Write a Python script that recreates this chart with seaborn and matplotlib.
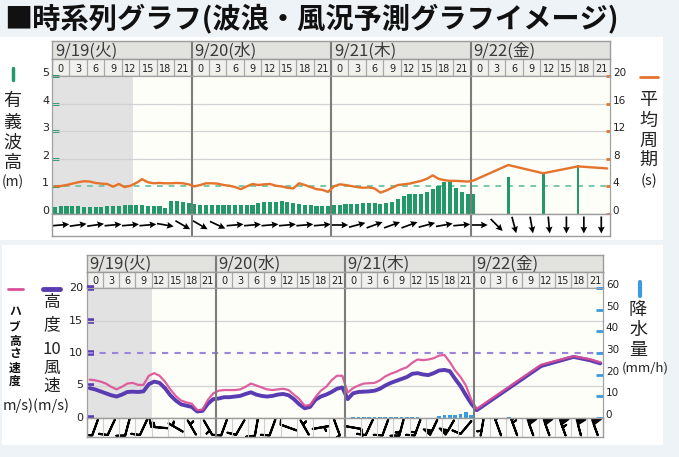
import numpy as np
import pandas as pd
import matplotlib
matplotlib.use("Agg")
import matplotlib.pyplot as plt
import seaborn as sns
from matplotlib.patches import Rectangle
from matplotlib.lines import Line2D
import matplotlib.transforms as mtransforms
from matplotlib import font_manager

sns.set_style("white")
CJK = ['Noto Sans CJK JP', 'DejaVu Sans']
plt.rcParams['font.family'] = CJK
_names = {f.name for f in font_manager.fontManager.ttflist}
NARROW = 'Liberation Sans Narrow' if 'Liberation Sans Narrow' in _names else 'DejaVu Sans'

# ---------------- data ----------------
dates = ['9/19(火)', '9/20(水)', '9/21(木)', '9/22(金)']
hour_labels = ['0', '3', '6', '9', '12', '15', '18', '21']

# significant wave height (m), hourly for hours 0..72
wave_height_hourly = [0.27, 0.3, 0.3, 0.28, 0.3, 0.27, 0.25, 0.25, 0.27, 0.3, 0.3, 0.3,
                      0.32, 0.32, 0.32, 0.32, 0.3, 0.3, 0.28, 0.2, 0.48, 0.46, 0.43, 0.4,
                      0.35, 0.33, 0.33, 0.33, 0.33, 0.33, 0.33, 0.33, 0.33, 0.33, 0.33, 0.4,
                      0.43, 0.45, 0.45, 0.48, 0.42, 0.4, 0.38, 0.33, 0.33, 0.3, 0.3, 0.3,
                      0.33, 0.33, 0.35, 0.36, 0.38, 0.4, 0.41, 0.41, 0.38, 0.4, 0.45, 0.55,
                      0.65, 0.72, 0.72, 0.72, 0.78, 0.89, 1.01, 1.17, 1.15, 0.93, 0.81, 0.72,
                      0.74]
wave_6h_hours = [78, 84, 90]
wave_height_6h = [1.35, 1.47, 1.78]

# mean wave period (s), hourly for hours 0..72
period_hourly = [4.0, 4.05, 4.2, 4.4, 4.6, 4.75, 4.7, 4.5, 4.4, 4.35, 3.96, 4.35,
                 3.9, 4.1, 4.5, 5.05, 4.6, 4.45, 4.5, 4.45, 4.45, 4.5, 4.45, 4.3,
                 4.0, 4.2, 4.45, 4.45, 4.4, 4.2, 4.1, 3.9, 3.6, 4.0, 4.35, 4.2,
                 4.3, 4.35, 4.1, 4.0, 3.8, 3.7, 4.45, 4.2, 3.9, 3.6, 3.5, 3.2,
                 4.0, 4.3, 4.2, 4.05, 3.9, 3.8, 3.85, 3.7, 3.1, 3.4, 3.8, 4.2,
                 4.3, 4.4, 4.6, 4.8, 5.1, 5.6, 5.1, 4.9, 4.8, 4.8, 4.75, 4.7,
                 4.85]
period_6h_hours = [78, 84, 90, 95]
period_6h = [7.1, 5.9, 6.9, 6.6]

# wave direction arrows every 3 h (degrees, 0 = pointing right, positive = up)
wave_dir = [5, 8, 8, 5, 5, 5, -10, -30,
            -30, -25, 5, 5, 5, 5, 5, 5,
            0, 15, 20, 20, 20, 15, 10, 5,
            0, -45, -75, -80, -85, -90, -90, -90]

# wind speed (m/s), hourly for hours 0..71
hub_speed_hourly = [5.9, 5.8, 5.6, 5.3, 4.8, 4.4, 4.8, 5.3, 5.4, 5.1, 5.1, 6.5,
                    6.9, 6.5, 5.6, 4.4, 3.4, 2.7, 2.4, 2.2, 1.2, 1.3, 2.8, 3.8,
                    4.2, 4.3, 4.3, 4.3, 4.4, 4.8, 5.3, 5.0, 4.7, 4.4, 4.3, 4.4,
                    4.5, 4.3, 3.6, 2.9, 1.9, 2.0, 3.2, 4.2, 4.8, 5.8, 6.5, 6.5,
                    3.9, 4.6, 5.0, 5.3, 5.35, 5.4, 5.8, 6.4, 6.8, 7.1, 7.5, 7.8,
                    8.5, 9.0, 8.9, 9.0, 9.2, 9.6, 9.7, 8.6, 7.3, 6.3, 5.0, 2.8]
wind10_hourly = [4.6, 4.4, 4.1, 3.8, 3.5, 3.3, 3.6, 4.0, 4.05, 4.0, 4.1, 5.2,
                 5.6, 5.4, 4.6, 3.5, 2.7, 2.1, 1.9, 1.7, 1.0, 1.1, 2.2, 2.9,
                 3.0, 3.2, 3.2, 3.3, 3.4, 3.7, 3.95, 3.6, 3.4, 3.3, 3.4, 3.6,
                 3.7, 3.5, 2.9, 2.1, 1.5, 1.7, 2.8, 3.3, 3.6, 4.0, 4.5, 4.7,
                 2.9, 3.8, 4.0, 4.05, 4.1, 4.2, 4.5, 5.0, 5.4, 5.7, 6.0, 6.3,
                 6.8, 6.9, 6.7, 6.6, 6.9, 7.3, 7.4, 7.2, 6.0, 4.9, 3.5, 2.2]
speed_3h_hours = [72, 75, 78, 81, 84, 87, 90, 93, 95]
hub_speed_3h = [1.4, 3.1, 4.8, 6.5, 8.2, 8.85, 9.5, 9.05, 8.55]
wind10_3h = [1.2, 2.9, 4.6, 6.3, 8.0, 8.7, 9.4, 8.9, 8.4]

# precipitation (mm/h)
precip_hourly = [0, 0, 0, 0, 0, 0, 0, 0, 0, 0, 0, 0,
                 0, 0, 0, 0, 0, 0, 0, 0, 0, 0, 0, 0,
                 0, 0, 0, 0, 0, 0, 0, 0, 0, 0, 0, 0,
                 0, 0, 0, 0, 0, 0, 0, 0, 0, 0, 0, 0,
                 0, 0.5, 0.5, 0.5, 0.5, 0.5, 0.5, 0.5, 0.5, 0.5, 0.5, 0.5,
                 0.5, 0.5, 0, 0, 0, 0.8, 1.5, 1.6, 1.6, 2.0, 3.0, 1.2]
precip_3h = [0, 0, 0.5, 0, 0, 0, 0, 0, 0]

# wind barbs every 3 h (speed m/s, direction wind blows from, degrees)
barb_speed = [4.5, 3.8, 3.6, 4.0, 5.4, 2.8, 1.8, 1.5,
              3.1, 3.3, 3.8, 3.4, 3.6, 1.8, 2.5, 4.4,
              3.5, 4.1, 4.6, 5.8, 6.8, 7.0, 7.3, 4.0,
              1.5, 3.5, 5.5, 7.5, 8.5, 9.2, 9.0, 8.5]
barb_dir = [200, 205, 195, 205, 275, 300, 330, 150,
            200, 210, 190, 200, 290, 330, 80, 160,
            100, 205, 200, 195, 200, 205, 210, 220,
            190, 340, 340, 340, 340, 340, 345, 340]

# ---------------- colours ----------------
GREEN = '#23996b'
ORANGE = '#e5732b'
PINK = '#dc4f95'
PURPLE = '#5a3cb2'
BLUE = '#3a9be0'
SHADE = '#e2e2e2'
PLOTBG = '#fefef9'
PAGEBG = '#eef3f8'

W, H = 679, 457
fig = plt.figure(figsize=(W / 100, H / 100), dpi=100)
fig.patch.set_facecolor(PAGEBG)


def rect(x0, y0, x1, y1):
    return [x0 / W, 1 - y1 / H, (x1 - x0) / W, (y1 - y0) / H]


def fx(x):
    return x / W


def fy(y):
    return 1 - y / H


for (x0, y0, x1, y1) in [(0, 37, 663, 240), (2, 245, 663, 445)]:
    fig.add_artist(Rectangle((fx(x0), fy(y1)), (x1 - x0) / W, (y1 - y0) / H,
                             transform=fig.transFigure, facecolor='white',
                             edgecolor='none', zorder=-10))

fig.text(fx(4), fy(18), '■時系列グラフ(波浪・風況予測グラフイメージ)', fontsize=20.3,
         fontweight='bold', family=CJK, va='center', ha='left', color='#111111')

day_starts = [0, 24, 48, 72]
cell_centers = np.arange(32) * 3 + 1.5


def plain(ax, face):
    ax.set_xlim(0, 96)
    ax.set_ylim(0, 1)
    ax.set_xticks([])
    ax.set_yticks([])
    ax.set_facecolor(face)
    for s in ax.spines.values():
        s.set_color('#9c9c9c')
        s.set_linewidth(1)


def header(ax_d, ax_h, fs):
    plain(ax_d, '#e2e2de')
    plain(ax_h, '#f0f0ec')
    for i, d in enumerate(dates):
        ax_d.text(day_starts[i] + 0.5, 0.45, d, va='center', ha='left',
                  fontsize=fs, family=CJK, color='#3a3a3a')
    for i in range(32):
        ax_h.axvline(i * 3, color='#a9a9a9', lw=0.9)
        ax_h.text(cell_centers[i], 0.42, hour_labels[i % 8], ha='center', va='center',
                  fontsize=7, family=NARROW, color='#222222')
    for d in day_starts[1:]:
        ax_d.axvline(d, color='#7c7c7c', lw=1.5)
        ax_h.axvline(d, color='#7c7c7c', lw=1.5)


def shift_labels(labels, dy_px):
    off = mtransforms.ScaledTranslation(0, dy_px / 100, fig.dpi_scale_trans)
    for lb in labels:
        lb.set_transform(lb.get_transform() + off)


# ================= TOP PANEL =================
ax_d1 = fig.add_axes(rect(52, 41, 610, 59))
ax_h1 = fig.add_axes(rect(52, 59, 610, 76))
header(ax_d1, ax_h1, 12)

ax1 = fig.add_axes(rect(52, 76, 610, 214))
ax1.set_xlim(0, 96)
ax1.set_ylim(0, 5)
ax1.set_facecolor(PLOTBG)
ax1.axvspan(0, 14, color=SHADE, lw=0, zorder=0)
for yv in [2, 3, 4]:
    ax1.axhline(yv, color='#d2d2d2', lw=0.9, zorder=1)
ax1.axhline(1, color='#78c8a8', lw=1.4, ls=(0, (3, 3)), zorder=1)
hx = np.arange(len(wave_height_hourly)) + 0.5
ax1.bar(hx, wave_height_hourly, width=0.72, color=GREEN, zorder=2, lw=0)
ax1.bar(np.array(wave_6h_hours) + 0.5, wave_height_6h, width=0.5, color=GREEN, zorder=2, lw=0)
for d in day_starts[1:]:
    ax1.axvline(d, color='#7c7c7c', lw=1.5, zorder=6)
ax1.set_xticks([])
ax1.set_yticks([0, 1, 2, 3, 4, 5])
ax1.tick_params(axis='y', which='major', left=True, direction='in', length=5, width=2.2,
                color=GREEN, labelsize=8, pad=2, labelfontfamily=NARROW, labelcolor='#222222')
for s in ax1.spines.values():
    s.set_color('#a0a0a0')
shift_labels(ax1.get_yticklabels(), 4)

ax1t = ax1.twinx()
ax1t.set_ylim(0, 20)
period_df = pd.DataFrame({
    'x': np.concatenate([np.arange(len(period_hourly)) + 0.5, np.array(period_6h_hours) + 0.5]),
    'y': np.concatenate([period_hourly, period_6h])})
sns.lineplot(data=period_df, x='x', y='y', ax=ax1t, color=ORANGE, lw=1.7, zorder=4)
ax1t.set_xlim(0, 96)
ax1t.set_xlabel('')
ax1t.set_ylabel('')
ax1t.set_yticks([0, 4, 8, 12, 16, 20])
ax1t.tick_params(axis='y', right=True, direction='in', length=3, width=2, color=ORANGE,
                 labelsize=7.5, pad=2, labelfontfamily=NARROW, labelcolor='#222222')
for s in ax1t.spines.values():
    s.set_color('#a0a0a0')
shift_labels(ax1t.get_yticklabels(), 4)

ax_a1 = fig.add_axes(rect(52, 214, 610, 236))
plain(ax_a1, 'white')
ax_a1.set_ylim(-1, 1)
ang = np.deg2rad(wave_dir)
ax_a1.quiver(cell_centers, np.zeros(32), 17 * np.cos(ang), 17 * np.sin(ang),
             angles='uv', scale_units='dots', scale=1, units='dots', width=1.7,
             headwidth=4, headlength=4, headaxislength=3.5, pivot='middle', color='black')
for d in day_starts[1:]:
    ax_a1.axvline(d, color='#7c7c7c', lw=1.5)

# legend/labels top
fig.add_artist(Line2D([fx(12.5), fx(12.5)], [fy(68), fy(80)], transform=fig.transFigure,
                      color=GREEN, lw=2.5))
for ch, yy in zip('有義波高', [101, 123, 143, 163]):
    fig.text(fx(12.5), fy(yy), ch, fontsize=13, family=CJK, ha='center', va='center', color='#222')
fig.text(fx(13), fy(182), '(m)', fontsize=10, family=CJK, ha='center', va='center', color='#222')
fig.add_artist(Line2D([fx(640), fx(658)], [fy(77), fy(77)], transform=fig.transFigure,
                      color=ORANGE, lw=2))
for ch, yy in zip('平均周期', [100, 121, 141, 160]):
    fig.text(fx(648), fy(yy), ch, fontsize=13, family=CJK, ha='center', va='center', color='#222')
fig.text(fx(649), fy(181), '(s)', fontsize=10.5, family=CJK, ha='center', va='center', color='#222')

# ================= BOTTOM PANEL =================
ax_d2 = fig.add_axes(rect(87, 255, 603, 272))
ax_h2 = fig.add_axes(rect(87, 272, 603, 288))
header(ax_d2, ax_h2, 12)

ax2 = fig.add_axes(rect(87, 288, 603, 418))
ax2.set_xlim(0, 96)
ax2.set_ylim(0, 20)
ax2.set_facecolor(PLOTBG)
ax2.axvspan(0, 12, color=SHADE, lw=0, zorder=0)
for yv in [5, 15]:
    ax2.axhline(yv, color='#d2d2d2', lw=0.9, zorder=1)
ax2.axhline(10, color='#9b84dc', lw=1.5, ls=(0, (3, 3)), zorder=1)
speed_df = pd.DataFrame({
    'x': np.concatenate([np.arange(len(wind10_hourly)) + 0.5, np.array(speed_3h_hours) + 0.5]),
    'wind10': np.concatenate([wind10_hourly, wind10_3h]),
    'hub': np.concatenate([hub_speed_hourly, hub_speed_3h])})
sns.lineplot(data=speed_df, x='x', y='wind10', ax=ax2, color=PURPLE, lw=2.8, zorder=3)
sns.lineplot(data=speed_df, x='x', y='hub', ax=ax2, color=PINK, lw=1.6, zorder=4, alpha=0.9)
for d in day_starts[1:]:
    ax2.axvline(d, color='#7c7c7c', lw=1.5, zorder=6)
ax2.set_xlim(0, 96)
ax2.set_xlabel('')
ax2.set_ylabel('')
ax2.set_xticks([])
ax2.set_yticks([0, 5, 10, 15, 20])
ax2.tick_params(axis='y', left=True, direction='in', length=5, width=4, color=PURPLE,
                labelsize=8, pad=3, labelfontfamily=NARROW, labelcolor='#222222')
for tk, col in zip(ax2.yaxis.get_major_ticks(), ['#b6aee0', '#5a3cb2', '#5a3cb2', '#7d66cc', '#a699dc']):
    tk.tick1line.set_color(col)
for s in ax2.spines.values():
    s.set_color('#a0a0a0')
shift_labels(ax2.get_yticklabels(), 1)

ax2t = ax2.twinx()
ax2t.set_ylim(0, 60)
ax2t.bar(np.arange(len(precip_hourly)) + 0.5, precip_hourly, width=0.7, color=BLUE, lw=0, zorder=2)
ax2t.bar(np.array(speed_3h_hours) + 0.5, precip_3h, width=0.7, color=BLUE, lw=0, zorder=2)
ax2t.set_xlim(0, 96)
ax2t.set_yticks([0, 10, 20, 30, 40, 50, 60])
ax2t.tick_params(axis='y', right=True, direction='in', length=5, width=2, color=BLUE,
                 labelsize=7.5, pad=2, labelfontfamily=NARROW, labelcolor='#222222')
for s in ax2t.spines.values():
    s.set_color('#a0a0a0')
shift_labels(ax2t.get_yticklabels(), 4)

ax_b = fig.add_axes(rect(87, 418, 603, 437))
plain(ax_b, '#fbfbf9')
ax_b.set_ylim(-1, 1)
for i in range(32):
    ax_b.axvline(i * 3, color='#cfcfcf', lw=0.8)
for d in day_starts[1:]:
    ax_b.axvline(d, color='#7c7c7c', lw=1.5)
bd = np.deg2rad(barb_dir)
bs = np.array(barb_speed)
ax_b.barbs(cell_centers, np.zeros(32), -bs * np.sin(bd), -bs * np.cos(bd),
           length=4.9, linewidth=1.5, pivot='middle', color='black',
           barb_increments=dict(half=2, full=4, flag=8),
           sizes=dict(emptybarb=0.1, spacing=0.2, height=0.5, width=0.3))

# legend/labels bottom
fig.add_artist(Line2D([fx(8), fx(23)], [fy(289), fy(289)], transform=fig.transFigure,
                      color=PINK, lw=2))
fig.add_artist(Line2D([fx(43), fx(60)], [fy(289), fy(289)], transform=fig.transFigure,
                      color=PURPLE, lw=3.5))
for ch, yy in zip('ハブ高さ速度', [311, 327, 341, 354, 368, 381]):
    fig.text(fx(15), fy(yy), ch, fontsize=8.5, fontweight='bold', family=CJK,
             ha='center', va='center', color='#111')
for ch, yy in zip(['高', '度', '10', '風', '速'], [303, 325, 350, 368, 386]):
    fig.text(fx(52), fy(yy), ch, fontsize=12, family=CJK, ha='center', va='center', color='#222')
fig.text(fx(3), fy(406), 'm/s)(m/s)', fontsize=10.5, family=CJK, ha='left', va='center', color='#222')
fig.add_artist(Line2D([fx(639.5), fx(639.5)], [fy(282), fy(296)], transform=fig.transFigure,
                      color=BLUE, lw=3))
for ch, yy in zip('降水量', [310, 330, 350]):
    fig.text(fx(638), fy(yy), ch, fontsize=13, family=CJK, ha='center', va='center', color='#222')
fig.text(fx(622), fy(368), '(mm/h)', fontsize=9.5, family=CJK, ha='left', va='center', color='#222')

fig.savefig('out.png', dpi=100, facecolor=fig.get_facecolor())
